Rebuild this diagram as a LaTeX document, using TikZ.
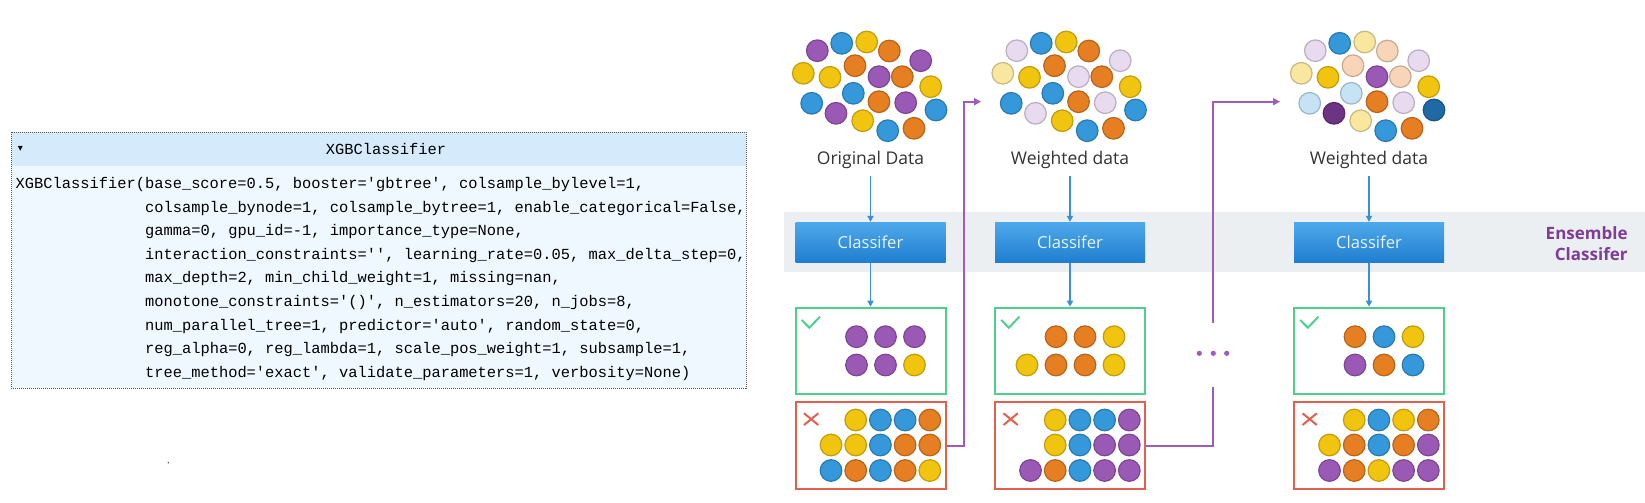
\documentclass[tikz,border=0pt]{standalone}
\usepackage{fontspec}
\setmainfont{Open Sans}
\setmonofont{Liberation Mono}
\newfontfamily\symfont{DejaVu Sans}
\usetikzlibrary{arrows.meta, positioning}

\definecolor{cpur}{HTML}{9B59B6}
\definecolor{cblu}{HTML}{3498DB}
\definecolor{cyel}{HTML}{F1C40F}
\definecolor{cora}{HTML}{E67E22}
\definecolor{lpur}{HTML}{E8DAEF}
\definecolor{lyel}{HTML}{F9E79F}
\definecolor{lora}{HTML}{F8D5B8}
\definecolor{lblu}{HTML}{C6E2F5}
\definecolor{dblu}{HTML}{1F6AA5}
\definecolor{dpur}{HTML}{6C3483}
\definecolor{okgreen}{HTML}{50CF8C}
\definecolor{badred}{HTML}{E2614E}
\definecolor{linkpur}{HTML}{A05CBA}
\definecolor{arrblue}{HTML}{3A8FD6}
\definecolor{bandgray}{HTML}{ECEFF1}
\definecolor{hdrblue}{HTML}{D5EBFB}
\definecolor{bodyblue}{HTML}{F0F8FF}
\definecolor{enspur}{HTML}{7D3C98}
\definecolor{clftop}{HTML}{4FA8EA}
\definecolor{clfbot}{HTML}{1F7ED0}
\definecolor{clftext}{HTML}{E8F4FD}

\begin{document}
\begin{tikzpicture}[x=0.5pt, y=-0.5pt,
    ball/.style={circle, inner sep=0pt, outer sep=0pt, minimum size=10.8pt,
                 line width=0.6pt, fill=#1, draw=#1!80!black},
    code/.style={inner sep=0pt, font=\ttfamily\fontsize{7.7pt}{9pt}\selectfont},
    datalabel/.style={font=\fontsize{8.75pt}{10pt}\selectfont, text=black!80},
    clf/.style={minimum width=75pt, minimum height=20pt, inner sep=0pt,
                top color=clftop, bottom color=clfbot, text=clftext,
                font=\fontsize{8.3pt}{10pt}\selectfont},
    okbox/.style={draw=okgreen, line width=1pt, minimum width=75pt,
                  minimum height=43.3pt, inner sep=0pt},
    badbox/.style={okbox, draw=badred},
    flow/.style={arrblue, line width=0.8pt, -{Triangle[length=3pt, width=3pt]}},
    link/.style={linkpur, line width=1pt},
    pdot/.style={circle, fill=linkpur, inner sep=0pt, minimum size=2.6pt}
]
\useasboundingbox (0,0) rectangle (1645,503);
\fill[white] (0,0) rectangle (1645,503);

% code box on the left
\node[fill=hdrblue, inner sep=0pt, outer sep=0pt, minimum width=367.5pt,
      minimum height=17pt, anchor=north west] (hdr) at (11,132) {};
\node[fill=bodyblue, inner sep=0pt, outer sep=0pt, minimum width=367.5pt,
      minimum height=111pt, anchor=north west] (body) at (hdr.south west) {};
\draw[black!65, line width=0.5pt, dash pattern=on 0.5pt off 0.5pt]
    (hdr.north west) rectangle (body.south east);
\node[font=\symfont\fontsize{5pt}{5pt}\selectfont, inner sep=0pt] (tog) at (20.5,149) {▾};
\node[code, anchor=base] (title) at (386,154) {XGBClassifier};
\foreach \i/\xs/\t in {
    0/15.3/{XGBClassifier(base\_score=0.5, booster='gbtree', colsample\_bylevel=1,},
    1/144.7/{colsample\_bynode=1, colsample\_bytree=1, enable\_categorical=False,},
    2/144.7/{gamma=0, gpu\_id=-1, importance\_type=None,},
    3/144.7/{interaction\_constraints='', learning\_rate=0.05, max\_delta\_step=0,},
    4/144.7/{max\_depth=2, min\_child\_weight=1, missing=nan,},
    5/144.7/{monotone\_constraints='()', n\_estimators=20, n\_jobs=8,},
    6/144.7/{num\_parallel\_tree=1, predictor='auto', random\_state=0,},
    7/144.7/{reg\_alpha=0, reg\_lambda=1, scale\_pos\_weight=1, subsample=1,},
    8/144.7/{tree\_method='exact', validate\_parameters=1, verbosity=None)}}
  \node[code, anchor=base west] (line\i) at (\xs, 188.4+23.6*\i) {\t};
\node[circle, fill=black!70, inner sep=0pt, minimum size=0.8pt] (speck) at (168.3,462.7) {};

% data clouds: original, first and second weighting
\foreach \dx/\dy/\ca/\cb/\cc [count=\k] in {
    -53.2/50.7/cpur/lpur/lpur, -28.8/43.3/cblu/cblu/cblu,
    -3.8/42/cyel/cyel/lyel, 18.8/51/cora/cora/lora,
    50.2/60.7/cpur/lpur/lpur, -67.2/73.3/cyel/lyel/lyel,
    -40.5/77.3/cyel/cyel/cyel, -15.5/65.7/cora/cora/lora,
    8.5/76.7/cpur/lpur/cpur, 31.8/76.7/cora/cora/lora,
    60.2/86.7/cyel/cyel/cyel, -58.8/103.3/cblu/cblu/lblu,
    -17.2/93.3/cblu/cblu/lblu, 8.5/101.7/cora/cora/cora,
    35.2/102.7/cpur/lpur/lpur, 65.5/110/cblu/cblu/dblu,
    -34.5/113.3/cpur/lpur/dpur, -7.8/120.7/cyel/cyel/lyel,
    17.2/130.7/cblu/cblu/cblu, 43.5/128.3/cora/cora/cora}
{
  \node[ball=\ca] (orig\k) at (\dx+870.5, \dy) {};
  \node[ball=\cb] (wa\k) at (\dx+1070, \dy) {};
  \node[ball=\cc] (wb\k) at (\dx+1368.5, \dy) {};
}
\node[datalabel] (lab1) at (870.5,160) {Original Data};
\node[datalabel] (lab2) at (1070,160) {Weighted data};
\node[datalabel] (lab3) at (1369,160) {Weighted data};

% ensemble band
\fill[bandgray] (784,212.3) rectangle (1645,271.7);
\node[clf] (clf1) at (870.5,242.3) {Classifer};
\node[clf] (clf2) at (1070,242.3) {Classifer};
\node[clf] (clf3) at (1369,242.3) {Classifer};
\node[align=right, anchor=east, inner sep=0pt, text=enspur,
      font=\bfseries\fontsize{8.5pt}{10.8pt}\selectfont] (ens) at (1628,243.5) {Ensemble\\Classifer};

% results
\foreach \n/\cx in {1/870.5, 2/1070, 3/1369} {
  \node[okbox] (ok\n) at (\cx,351) {};
  \node[badbox] (bad\n) at (\cx,445.7) {};
  \draw[okgreen, line width=1pt] (\cx-68.8,320) -- (\cx-61.2,327.7) -- (\cx-50.5,316.7);
  \draw[badred, line width=1pt] (\cx-66.5,413.3) -- (\cx-52.2,425)
                                (\cx-52.2,413.3) -- (\cx-66.5,425);
  \draw[flow] (lab\n) -- (clf\n);
  \draw[flow] (clf\n) -- (ok\n);
}
% correct ones
\foreach \cx/\ry/\first/\cols in {
    870.5/336.7/1/{cpur,cpur,cpur}, 870.5/365/1/{cpur,cpur,cyel},
    1070/336.7/1/{cora,cora,cyel}, 1070/365/0/{cyel,cora,cora,cyel},
    1369/336.7/1/{cora,cblu,cyel}, 1369/365/1/{cpur,cora,cblu}}
  \foreach \c [count=\j from \first] in \cols
    \node[ball=\c] (g-\cx-\ry-\j) at (\cx-43+29*\j, \ry) {};
% wrong ones
\foreach \cx/\ry/\first/\cols in {
    870.5/420/1/{cyel,cblu,cblu,cora}, 870.5/445/0/{cyel,cyel,cblu,cora,cora},
    870.5/470.5/0/{cblu,cora,cblu,cora,cyel},
    1070/420/1/{cyel,cblu,cblu,cpur}, 1070/445/1/{cyel,cblu,cpur,cpur},
    1070/470.5/0/{cpur,cora,cblu,cpur,cpur},
    1369/420/1/{cyel,cblu,cyel,cora}, 1369/445/0/{cyel,cora,cblu,cora,cpur},
    1369/470.5/0/{cpur,cora,cyel,cpur,cpur}}
  \foreach \c [count=\j from \first] in \cols
    \node[ball=\c] (r-\cx-\ry-\j) at (\cx-39.5+24.7*\j, \ry) {};

% reweighting links
\coordinate (up1) at (964,101.7);
\coordinate (in2) at (981,101.7);
\draw[link, -{Triangle[length=3.5pt, width=3.5pt]}] (bad1.east) -| (up1) -- (in2);
\foreach \i/\xx in {1/1199.3, 2/1213.3, 3/1226.7}
  \node[pdot] (dots\i) at (\xx,353.3) {};
\coordinate (gapb) at (1213.3,386.7);
\coordinate (gapt) at (1213.3,323.3);
\coordinate (in3) at (1280,101.7);
\draw[link] (bad2.east) -| (gapb);
\draw[link, -{Triangle[length=3.5pt, width=3.5pt]}] (gapt) |- (in3);
\end{tikzpicture}
\end{document}
